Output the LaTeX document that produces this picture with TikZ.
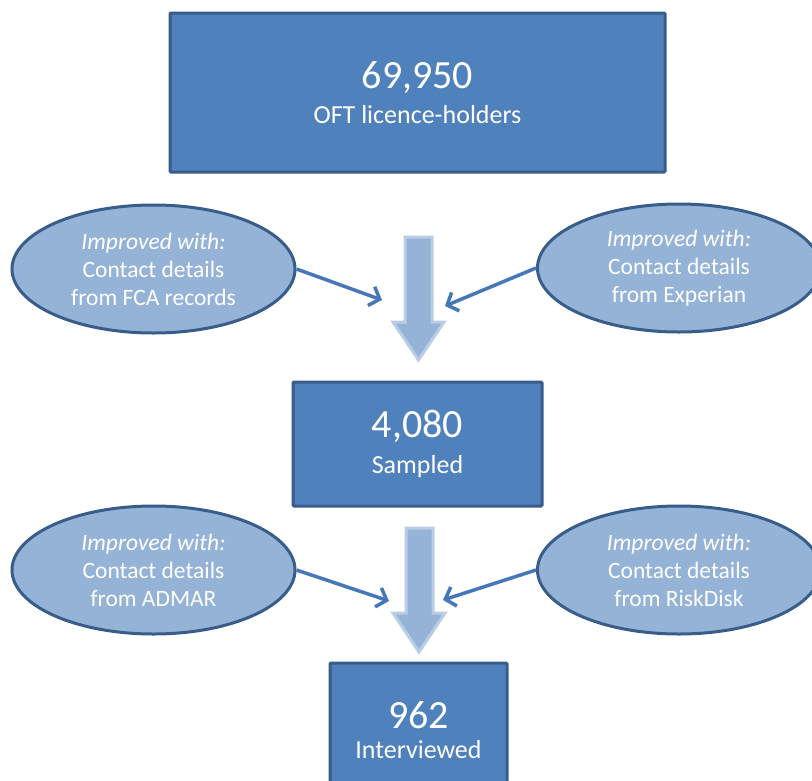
\documentclass[tikz,border=0pt]{standalone}
\usepackage{fontspec}
\setmainfont{Carlito}
\usetikzlibrary{arrows.meta,shapes.geometric}
\definecolor{boxfill}{HTML}{4F81BD}
\definecolor{boxline}{HTML}{385D8A}
\definecolor{ellfill}{HTML}{95B3D7}
\definecolor{bigarrow}{HTML}{95B3D7}
\definecolor{bigarrowline}{HTML}{B9CDE5}
\definecolor{conn}{HTML}{4677B8}
\tikzset{
  countbox/.style={draw=boxline, fill=boxfill, line width=3pt, rectangle, inner sep=0pt, text=white, align=center, rounded corners=1pt},
  srcell/.style={draw=boxline, fill=ellfill, line width=3pt, ellipse, inner sep=0pt, minimum width=283pt, minimum height=128pt, text=white, align=center, font=\fontsize{23.5}{28}\selectfont},
  bigdown/.style={fill=bigarrow, draw=bigarrowline, line width=3pt, line join=miter},
  feed/.style={draw=conn, line width=3.5pt, -{Straight Barb[length=9pt,width=20pt]}}
}
\newcommand{\numtxt}[2]{{\fontsize{40}{40}\selectfont #1}\\[11pt]{\fontsize{26}{36}\selectfont #2}}
\begin{document}
\begin{tikzpicture}[x=1pt,y=-1pt]
\useasboundingbox (0,0) rectangle (812,780);
\fill[white] (0,0) rectangle (812,780);
% boxes
\node[countbox, minimum width=495pt, minimum height=159pt] (top) at (417.5,92.5) {\numtxt{69,950}{OFT licence-holders}};
\node[countbox, minimum width=249pt, minimum height=124pt] (samp) at (417.5,444) {\numtxt{4,080}{Sampled}};
\node[countbox, minimum width=177pt, minimum height=134pt] (intv) at (418.5,730) {\numtxt{962}{Interviewed}};
% big arrows
\draw[bigdown] (405,237) -- (432,237) -- (432,322) -- (444,322) -- (418.5,360) -- (393,322) -- (405,322) -- cycle;
\draw[bigdown] (406,528) -- (433,528) -- (433,613) -- (445,613) -- (419,652) -- (393,613) -- (406,613) -- cycle;
\coordinate (a1l) at (382,300);
\coordinate (a1r) at (445,306);
\coordinate (a2l) at (389,601);
\coordinate (a2r) at (443,600);
% ellipses
\node[srcell] (e1) at (153.5,269) {{\itshape Improved with:}\\Contact details\\from FCA records};
\node[srcell] (e2) at (679,268) {{\itshape Improved with:}\\Contact details\\from Experian};
\node[srcell] (e3) at (153.5,570) {{\itshape Improved with:}\\Contact details\\from ADMAR};
\node[srcell] (e4) at (679,570) {{\itshape Improved with:}\\Contact details\\from RiskDisk};
% connectors
\draw[feed] (e1.east) -- (a1l);
\draw[feed] (e2.west) -- (a1r);
\draw[feed] (e3.east) -- (a2l);
\draw[feed] (e4.west) -- (a2r);
\end{tikzpicture}
\end{document}
